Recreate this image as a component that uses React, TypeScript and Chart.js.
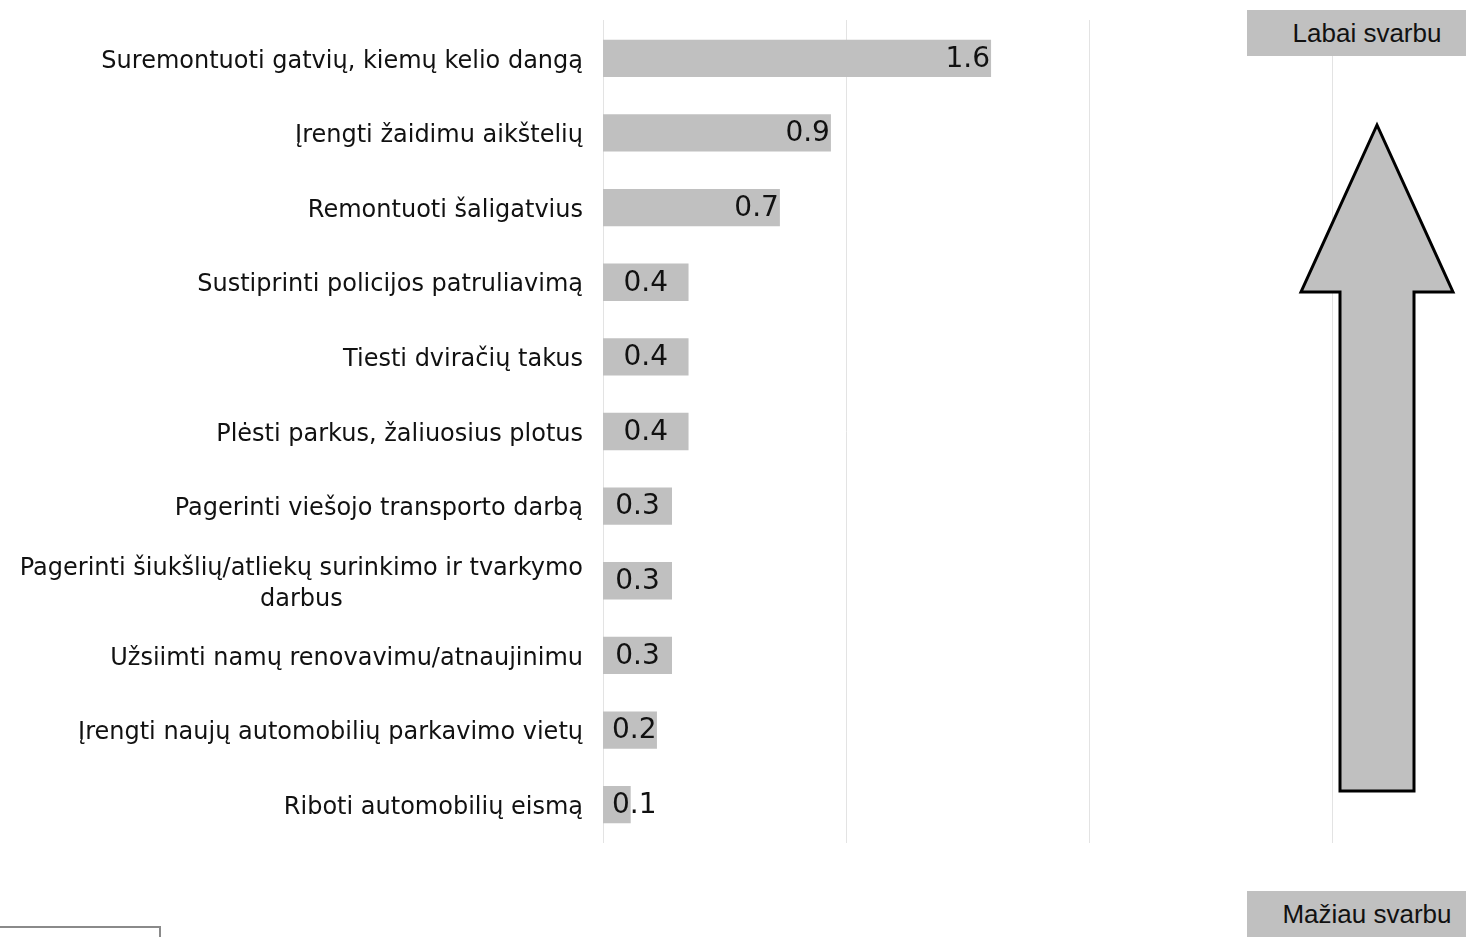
import React, { useEffect, useRef } from 'react';
import { Chart, registerables } from 'chart.js';

Chart.register(...registerables);

const categories: (string | string[])[] = [
  'Suremontuoti gatvių, kiemų kelio dangą',
  'Įrengti žaidimu aikštelių',
  'Remontuoti šaligatvius',
  'Sustiprinti policijos patruliavimą',
  'Tiesti dviračių takus',
  'Plėsti parkus, žaliuosius plotus',
  'Pagerinti viešojo transporto darbą',
  ['Pagerinti šiukšlių/atliekų surinkimo ir tvarkymo', 'darbus'],
  'Užsiimti namų renovavimu/atnaujinimu',
  'Įrengti naujų automobilių parkavimo vietų',
  'Riboti automobilių eismą',
];

const importance: number[] = [1.597, 0.938, 0.728, 0.352, 0.352, 0.352, 0.284, 0.284, 0.284, 0.222, 0.114];

const gridTicks: number[] = [0, 1, 2, 3];

const topLabel = 'Labai svarbu';
const bottomLabel = 'Mažiau svarbu';

const BAR_COLOR = '#c0c0c0';
const CAT_FONT = '24px "DejaVu Sans", Verdana, sans-serif';
const VAL_FONT = '28px "DejaVu Sans", Verdana, sans-serif';

const customPlugin = {
  id: 'customDraw',
  beforeDatasetsDraw(chart: any) {
    const ctx = chart.ctx;
    const xs = chart.scales.x;
    const area = chart.chartArea;
    ctx.save();
    ctx.strokeStyle = '#e3e3e3';
    ctx.lineWidth = 1;
    gridTicks.forEach((t) => {
      const x = Math.round(xs.getPixelForValue(t)) + 0.5;
      ctx.beginPath();
      ctx.moveTo(x, area.top - 1);
      ctx.lineTo(x, area.bottom + 1);
      ctx.stroke();
    });
    ctx.restore();
  },
  afterDatasetsDraw(chart: any) {
    const ctx = chart.ctx;
    const ys = chart.scales.y;
    const meta = chart.getDatasetMeta(0);
    ctx.save();
    // category labels
    ctx.fillStyle = '#111';
    ctx.font = CAT_FONT;
    ctx.textBaseline = 'middle';
    const rightEdge = ys.right - 20;
    categories.forEach((c, i) => {
      const y = ys.getPixelForTick(i) + 3;
      const lines = Array.isArray(c) ? c : [c];
      const widths = lines.map((l) => ctx.measureText(l).width);
      const maxW = Math.max(...widths);
      const lh = 31;
      lines.forEach((l, j) => {
        const ly = y + (j - (lines.length - 1) / 2) * lh;
        ctx.textAlign = 'center';
        ctx.fillText(l, rightEdge - maxW / 2, ly);
      });
    });
    // value labels
    ctx.font = VAL_FONT;
    meta.data.forEach((bar: any, i: number) => {
      const txt = importance[i].toFixed(1);
      const w = ctx.measureText(txt).width;
      const start = bar.base;
      const end = bar.x;
      const bw = end - start;
      let left: number;
      if (bw > 2.5 * w) {
        left = end - 1 - w;
      } else {
        left = Math.max(start + 9, (start + end) / 2 - w / 2);
      }
      ctx.textAlign = 'left';
      ctx.fillStyle = '#111';
      ctx.fillText(txt, left, bar.y + 1);
    });
    ctx.restore();
  },
};

export default function App() {
  const canvasRef = useRef<HTMLCanvasElement | null>(null);

  useEffect(() => {
    document.body.style.margin = '0';
    if (!canvasRef.current) return;
    const chart = new Chart(canvasRef.current, {
      type: 'bar',
      data: {
        labels: categories as any,
        datasets: [
          {
            data: importance,
            backgroundColor: BAR_COLOR,
            borderWidth: 0,
            barPercentage: 0.5,
            categoryPercentage: 1,
          },
        ],
      },
      options: {
        indexAxis: 'y',
        animation: false,
        responsive: false,
        maintainAspectRatio: false,
        layout: { padding: { top: 21, bottom: 95, left: 0, right: 134 } },
        plugins: {
          legend: { display: false },
          tooltip: { enabled: false },
        },
        scales: {
          x: {
            display: false,
            min: 0,
            max: 3,
          },
          y: {
            display: true,
            grid: { display: false },
            border: { display: false },
            ticks: { display: false },
            afterFit: (s: any) => {
              s.width = 603;
            },
          },
        },
      },
      plugins: [customPlugin],
    });
    return () => chart.destroy();
  }, []);

  const boxStyle: React.CSSProperties = {
    position: 'absolute',
    left: 1247,
    width: 240,
    height: 46,
    background: BAR_COLOR,
    color: '#111',
    font: '26px "Liberation Sans", Arial, sans-serif',
    display: 'flex',
    alignItems: 'center',
    justifyContent: 'center',
    lineHeight: 1,
  };

  return (
    <div style={{ position: 'absolute', left: 0, top: 0, width: 1466, height: 937, overflow: 'hidden', background: '#fff' }}>
      <canvas ref={canvasRef} width={1466} height={937} style={{ position: 'absolute', left: 0, top: 0 }} />
      <svg width={1466} height={937} style={{ position: 'absolute', left: 0, top: 0 }}>
        <polygon
          points="1377,125 1301,292 1340,292 1340,791 1414,791 1414,292 1453,292"
          fill={BAR_COLOR}
          stroke="#000"
          strokeWidth={3}
          strokeLinejoin="miter"
        />
      </svg>
      <div style={{ ...boxStyle, top: 10 }}>{topLabel}</div>
      <div style={{ ...boxStyle, top: 891 }}>{bottomLabel}</div>
      <div
        style={{
          position: 'absolute',
          left: -10,
          top: 926,
          width: 167,
          height: 40,
          border: '2px solid #8a8a8a',
        }}
      />
    </div>
  );
}
